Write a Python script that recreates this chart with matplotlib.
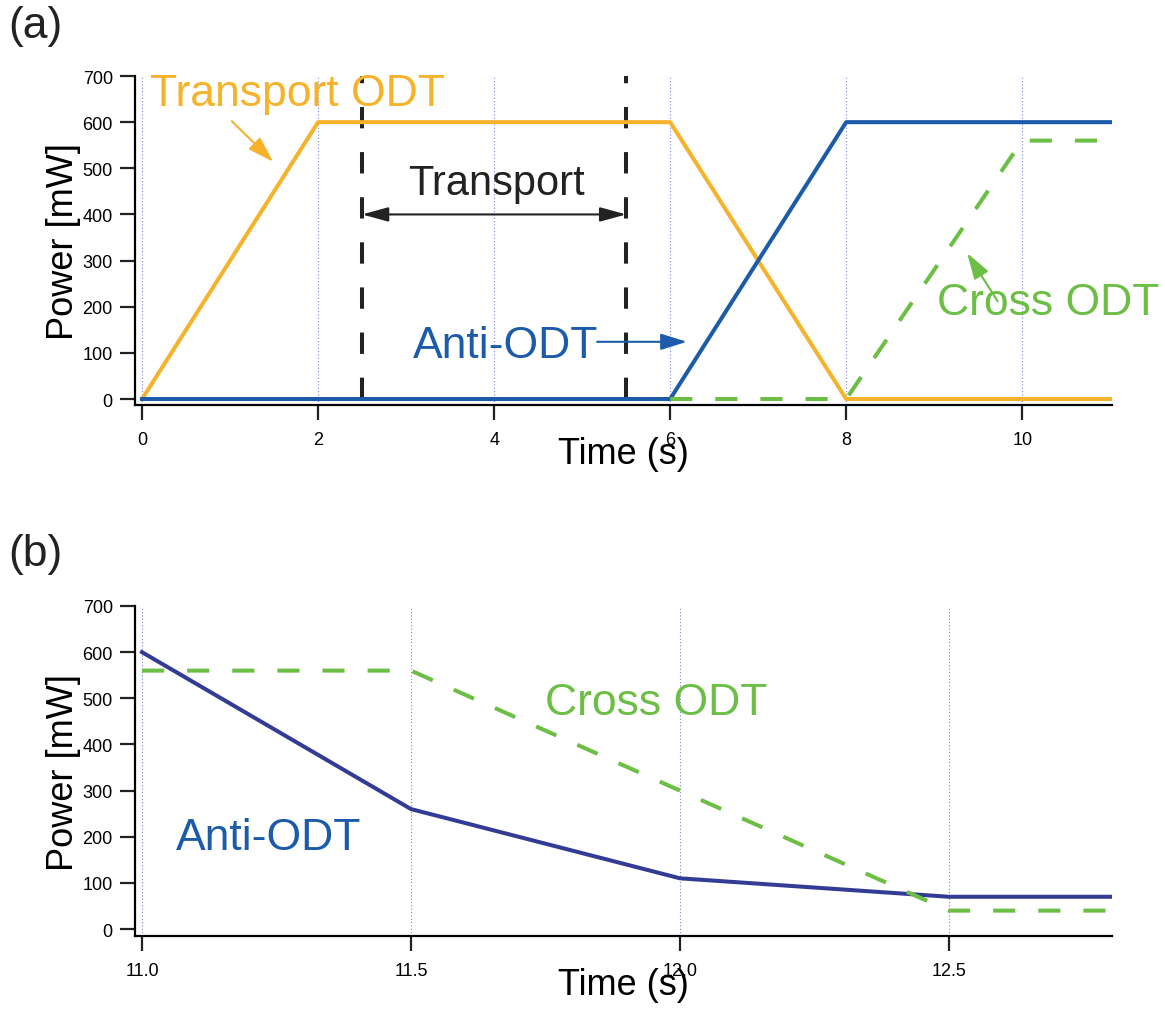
import numpy as np
import matplotlib
matplotlib.use('Agg')
import matplotlib.pyplot as plt
from matplotlib import rcParams

config = {
    "font.family": ['Liberation Sans', 'DejaVu Sans'],
    "axes.unicode_minus": False,
}
rcParams.update(config)

# colours
c_trans = '#F6B22A'
c_anti = '#1C5BA9'
c_anti2 = '#323C95'
c_cross = '#6CBE45'
c_grid = '#7683D6'

# (a) loading + transport ramp
ta_trans = [0, 2, 6, 8, 11]
pa_trans = [0, 600, 600, 0, 0]
ta_anti = [0, 6, 8, 11]
pa_anti = [0, 0, 600, 600]
ta_cross = [6, 8, 10, 11]
pa_cross = [0, 0, 560, 560]
t_start, t_stop = 2.5, 5.5

# (b) evaporation ramp
tb_anti = [11.0, 11.5, 12.0, 12.5, 12.8]
pb_anti = [600, 260, 110, 70, 70]
tb_cross = [11.0, 11.5, 12.5, 12.8]
pb_cross = [560, 560, 40, 40]

xt_a = [0, 2, 4, 6, 8, 10]
xt_b = [11.0, 11.5, 12.0, 12.5]
yt = [0, 100, 200, 300, 400, 500, 600, 700]

lw = 2.9
dash = (5.5, 5.7)


def style(ax, xt, xlim, ylim, fmt):
    ax.set_xlim(*xlim)
    ax.set_ylim(*ylim)
    ax.spines['top'].set_visible(False)
    ax.spines['right'].set_visible(False)
    ax.spines['left'].set_linewidth(1.6)
    ax.spines['bottom'].set_linewidth(1.6)
    ax.spines['left'].set_bounds(ylim[0], 700)
    ax.set_xticks(xt)
    ax.set_xticklabels([fmt % v for v in xt])
    ax.set_yticks(yt)
    ax.tick_params(axis='both', length=11, width=1.6, labelsize=13, color='#222222')
    ax.tick_params(axis='x', pad=8)
    ax.tick_params(axis='y', pad=5)
    for v in xt:
        ax.plot([v, v], [ylim[0], 700], color=c_grid, lw=0.8,
                linestyle=(0, (1, 2)), zorder=0.5)
    ax.set_xlabel('Time (s)', fontsize=26)
    ax.set_ylabel('Power [mW]', fontsize=26)
    ax.xaxis.set_label_coords(0.5, -0.095)
    ax.yaxis.set_label_coords(-0.055, 0.5)


fig = plt.figure(figsize=(11.65, 10.12), dpi=100)

# ---------- (a) ----------
ax1 = fig.add_axes([0.1159, 0.5988, 0.8386, 0.3251])
style(ax1, xt_a, (-0.08, 11.02), (-13, 700), '%d')

for x in (t_start, t_stop):
    ax1.plot([x, x], [0, 700], color='#222222', lw=lw, dashes=(5.3, 5.9), zorder=1.5)
ax1.plot(ta_trans, pa_trans, color=c_trans, lw=lw, zorder=3)
ax1.plot(ta_anti, pa_anti, color=c_anti, lw=lw, zorder=3)
ax1.plot(ta_cross, pa_cross, color=c_cross, lw=lw, dashes=dash, zorder=4)

ax1.text(0.09, 637, 'Transport ODT', color=c_trans, fontsize=32, va='baseline')
ax1.annotate('', xy=(1.49, 514), xytext=(1.02, 602),
             arrowprops=dict(arrowstyle='-|>,head_length=0.8,head_width=0.25',
                             color=c_trans, lw=1.5, mutation_scale=20,
                             shrinkA=0, shrinkB=0))

ax1.text(4.03, 444, 'Transport', color='#222222', fontsize=30, ha='center', va='baseline')
ax1.annotate('', xy=(t_stop, 400), xytext=(t_start, 400),
             arrowprops=dict(arrowstyle='<|-|>,head_length=0.8,head_width=0.22',
                             color='#222222', lw=1.5, mutation_scale=20,
                             shrinkA=0, shrinkB=0))

ax1.text(3.08, 91, 'Anti-ODT', color=c_anti, fontsize=32, va='baseline')
ax1.annotate('', xy=(6.19, 124), xytext=(5.17, 124),
             arrowprops=dict(arrowstyle='-|>,head_length=0.8,head_width=0.25',
                             color=c_anti, lw=1.5, mutation_scale=20,
                             shrinkA=0, shrinkB=0))

ax1.text(9.03, 184, 'Cross ODT', color=c_cross, fontsize=32, va='baseline')
ax1.annotate('', xy=(9.375, 316), xytext=(9.72, 212),
             arrowprops=dict(arrowstyle='-|>,head_length=0.8,head_width=0.25',
                             color=c_cross, lw=1.5, mutation_scale=20,
                             shrinkA=0, shrinkB=0))

# ---------- (b) ----------
ax2 = fig.add_axes([0.1159, 0.0741, 0.8386, 0.3261])
style(ax2, xt_b, (10.987, 12.803), (-15, 700), '%.1f')

ax2.plot(tb_anti, pb_anti, color=c_anti2, lw=lw, zorder=3)
ax2.plot(tb_cross, pb_cross, color=c_cross, lw=lw, dashes=dash, zorder=4)

ax2.text(11.749, 466, 'Cross ODT', color=c_cross, fontsize=32, va='baseline')
ax2.text(11.063, 173, 'Anti-ODT', color=c_anti, fontsize=32, va='baseline')

fig.text(0.007, 0.974, '(a)', fontsize=32, va='center', color='#222222')
fig.text(0.007, 0.4516, '(b)', fontsize=32, va='center', color='#222222')

plt.savefig('out.png', dpi=100)
